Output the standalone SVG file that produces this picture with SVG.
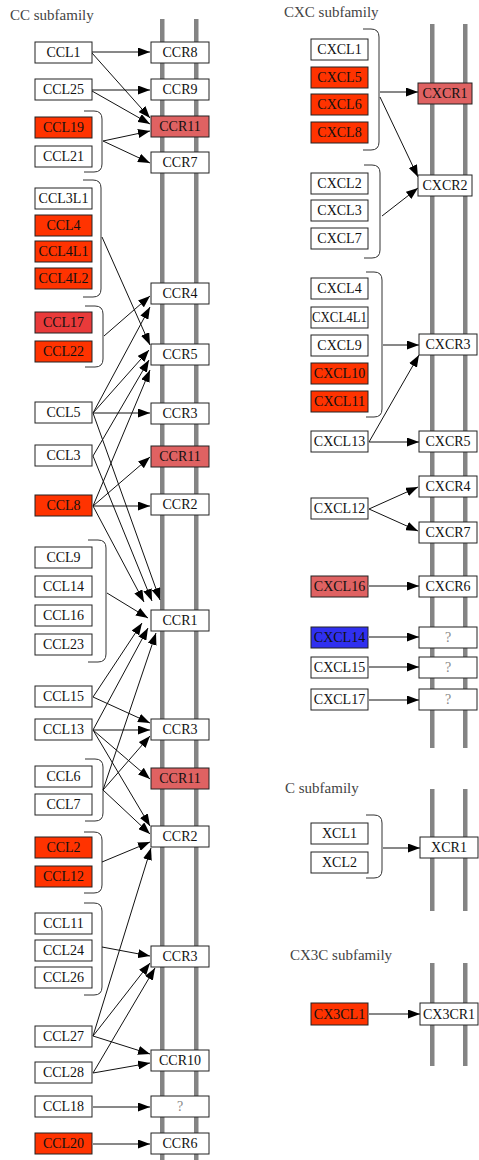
<svg xmlns="http://www.w3.org/2000/svg" width="479" height="1160" viewBox="0 0 479 1160">
<style>
.bg{fill:#ffffff}
.bar{fill:#848484}
rect.n{stroke:#222;stroke-width:1;fill:#ffffff}
rect.red{fill:#ff3300}
rect.red2{fill:#e93a3a}
rect.pink{fill:#df6262}
rect.blue{fill:#3030f0}
text{font-family:"Liberation Serif","Times New Roman",serif;font-size:14px;fill:#111;text-anchor:middle}
text.q{fill:#888}
text.h{font-size:15px;fill:#444;text-anchor:start}
.br{fill:none;stroke:#333;stroke-width:1}
.c path{fill:none;stroke:#111;stroke-width:1;marker-end:url(#ah)}
</style>
<defs>
<marker id="ah" markerWidth="12" markerHeight="9" refX="12" refY="4.5" orient="auto" markerUnits="userSpaceOnUse"><path d="M0,0 L12,4.5 L0,9 z" fill="#000"/></marker>
</defs>
<rect class="bg" x="0" y="0" width="479" height="1160"/>
<g id="labels">
<text class="h" x="10" y="20">CC subfamily</text>
<text class="h" x="284" y="17">CXC subfamily</text>
<text class="h" x="285" y="793">C subfamily</text>
<text class="h" x="290" y="960">CX3C subfamily</text>
</g>
<g id="membranes">
<rect class="bar" x="160" y="19" width="4.5" height="1141"/>
<rect class="bar" x="194" y="19" width="4.5" height="1141"/>
<rect class="bar" x="430" y="24" width="4.5" height="724"/>
<rect class="bar" x="463" y="24" width="4.5" height="724"/>
<rect class="bar" x="430" y="789" width="4.5" height="122"/>
<rect class="bar" x="463" y="789" width="4.5" height="122"/>
<rect class="bar" x="430" y="963" width="4.5" height="103"/>
<rect class="bar" x="463" y="963" width="4.5" height="103"/>
</g>
<g id="brackets">
<path class="br" d="M84,111 H94 Q102,111 102,119 V164 Q102,172 94,172 H84"/>
<path class="br" d="M83,180 H93 Q101,180 101,188 V289 Q101,297 93,297 H83"/>
<path class="br" d="M85,306 H95 Q103,306 103,314 V359 Q103,367 95,367 H85"/>
<path class="br" d="M88,540 H98 Q106,540 106,548 V654 Q106,662 98,662 H88"/>
<path class="br" d="M85,759 H95 Q103,759 103,767 V813 Q103,821 95,821 H85"/>
<path class="br" d="M84,832 H94 Q102,832 102,840 V885 Q102,893 94,893 H84"/>
<path class="br" d="M84,903 H94 Q102,903 102,911 V987 Q102,995 94,995 H84"/>
<path class="br" d="M363,29 H371 Q379,29 379,37 V142 Q379,150 371,150 H363"/>
<path class="br" d="M364,165 H372 Q380,165 380,173 V250 Q380,258 372,258 H364"/>
<path class="br" d="M366,272 H374 Q382,272 382,280 V409 Q382,417 374,417 H366"/>
<path class="br" d="M366,815 H374 Q382,815 382,823 V870 Q382,878 374,878 H366"/>
</g>
<g id="connectors" class="c">
<path d="M92,52 L150,52"/>
<path d="M92,53 L150,118"/>
<path d="M92,90 L150,90"/>
<path d="M92,91 L150,124"/>
<path d="M103,141 L150,131"/>
<path d="M103,141 L150,163"/>
<path d="M102,237 L150,345"/>
<path d="M104,336 L150,296"/>
<path d="M93,413 L150,307"/>
<path d="M93,413 L149,350"/>
<path d="M93,413 L150,413"/>
<path d="M93,413 L160,600"/>
<path d="M93,456 L149,360"/>
<path d="M93,456 L152,601"/>
<path d="M93,506 L150,370"/>
<path d="M93,506 L150,457"/>
<path d="M93,506 L150,506"/>
<path d="M93,506 L144,602"/>
<path d="M107,593 L148,618"/>
<path d="M93,697 L142,623"/>
<path d="M93,697 L150,723"/>
<path d="M93,730 L148,628"/>
<path d="M93,730 L150,730"/>
<path d="M93,730 L150,779"/>
<path d="M93,730 L150,826"/>
<path d="M103,790 L150,736"/>
<path d="M103,790 L156,633"/>
<path d="M103,790 L150,834"/>
<path d="M102,862 L150,842"/>
<path d="M102,947 L150,956"/>
<path d="M93,1036 L151,848"/>
<path d="M93,1036 L150,963"/>
<path d="M93,1036 L150,1054"/>
<path d="M93,1073 L155,968"/>
<path d="M93,1073 L150,1063"/>
<path d="M93,1107 L150,1107"/>
<path d="M93,1144 L150,1144"/>
<path d="M380,92 L418,92"/>
<path d="M380,97 L418,177"/>
<path d="M382,216 L418,188"/>
<path d="M383,345 L419,345"/>
<path d="M369,442 L419,355"/>
<path d="M369,442 L419,442"/>
<path d="M369,509 L418,487"/>
<path d="M369,509 L418,531"/>
<path d="M369,586 L419,586"/>
<path d="M369,637 L419,637"/>
<path d="M369,667 L419,667"/>
<path d="M369,700 L419,700"/>
<path d="M383,848 L420,848"/>
<path d="M369,1014 L420,1014"/>
</g>
<g id="CCL1"><rect class="n" x="35" y="42" width="57" height="21"/><text x="63.5" y="57">CCL1</text></g>
<g id="CCL25"><rect class="n" x="35" y="79" width="57" height="21"/><text x="63.5" y="94">CCL25</text></g>
<g id="CCL19"><rect class="n red" x="35" y="117" width="57" height="21"/><text x="63.5" y="132">CCL19</text></g>
<g id="CCL21"><rect class="n" x="35" y="146" width="57" height="21"/><text x="63.5" y="161">CCL21</text></g>
<g id="CCL3L1"><rect class="n" x="35" y="188" width="57" height="21"/><text x="63.5" y="203">CCL3L1</text></g>
<g id="CCL4"><rect class="n red" x="35" y="215" width="57" height="21"/><text x="63.5" y="230">CCL4</text></g>
<g id="CCL4L1"><rect class="n red" x="35" y="241" width="57" height="21"/><text x="63.5" y="256">CCL4L1</text></g>
<g id="CCL4L2"><rect class="n red" x="35" y="268" width="57" height="21"/><text x="63.5" y="283">CCL4L2</text></g>
<g id="CCL17"><rect class="n red2" x="35" y="312" width="57" height="21"/><text x="63.5" y="327">CCL17</text></g>
<g id="CCL22"><rect class="n red" x="35" y="341" width="57" height="21"/><text x="63.5" y="356">CCL22</text></g>
<g id="CCL5"><rect class="n" x="35" y="402" width="57" height="21"/><text x="63.5" y="417">CCL5</text></g>
<g id="CCL3"><rect class="n" x="35" y="445" width="57" height="21"/><text x="63.5" y="460">CCL3</text></g>
<g id="CCL8"><rect class="n red" x="35" y="495" width="57" height="21"/><text x="63.5" y="510">CCL8</text></g>
<g id="CCL9"><rect class="n" x="35" y="547" width="57" height="21"/><text x="63.5" y="562">CCL9</text></g>
<g id="CCL14"><rect class="n" x="35" y="576" width="57" height="21"/><text x="63.5" y="591">CCL14</text></g>
<g id="CCL16"><rect class="n" x="35" y="605" width="57" height="21"/><text x="63.5" y="620">CCL16</text></g>
<g id="CCL23"><rect class="n" x="35" y="634" width="57" height="21"/><text x="63.5" y="649">CCL23</text></g>
<g id="CCL15"><rect class="n" x="35" y="686" width="57" height="21"/><text x="63.5" y="701">CCL15</text></g>
<g id="CCL13"><rect class="n" x="35" y="719" width="57" height="21"/><text x="63.5" y="734">CCL13</text></g>
<g id="CCL6"><rect class="n" x="35" y="766" width="57" height="21"/><text x="63.5" y="781">CCL6</text></g>
<g id="CCL7"><rect class="n" x="35" y="794" width="57" height="21"/><text x="63.5" y="809">CCL7</text></g>
<g id="CCL2"><rect class="n red" x="35" y="837" width="57" height="21"/><text x="63.5" y="852">CCL2</text></g>
<g id="CCL12"><rect class="n red" x="35" y="866" width="57" height="21"/><text x="63.5" y="881">CCL12</text></g>
<g id="CCL11"><rect class="n" x="35" y="913" width="57" height="21"/><text x="63.5" y="928">CCL11</text></g>
<g id="CCL24"><rect class="n" x="35" y="940" width="57" height="21"/><text x="63.5" y="955">CCL24</text></g>
<g id="CCL26"><rect class="n" x="35" y="967" width="57" height="21"/><text x="63.5" y="982">CCL26</text></g>
<g id="CCL27"><rect class="n" x="35" y="1026" width="57" height="21"/><text x="63.5" y="1041">CCL27</text></g>
<g id="CCL28"><rect class="n" x="35" y="1062" width="57" height="21"/><text x="63.5" y="1077">CCL28</text></g>
<g id="CCL18"><rect class="n" x="35" y="1096" width="57" height="21"/><text x="63.5" y="1111">CCL18</text></g>
<g id="CCL20"><rect class="n red" x="35" y="1133" width="57" height="21"/><text x="63.5" y="1148">CCL20</text></g>
<g id="CCR8"><rect class="n" x="151" y="42" width="58" height="21"/><text x="180" y="57">CCR8</text></g>
<g id="CCR9"><rect class="n" x="151" y="79" width="58" height="21"/><text x="180" y="94">CCR9</text></g>
<g id="CCR11a"><rect class="n pink" x="151" y="116" width="58" height="21"/><text x="180" y="131">CCR11</text></g>
<g id="CCR7"><rect class="n" x="151" y="152" width="58" height="21"/><text x="180" y="167">CCR7</text></g>
<g id="CCR4"><rect class="n" x="151" y="283" width="58" height="21"/><text x="180" y="298">CCR4</text></g>
<g id="CCR5"><rect class="n" x="151" y="344" width="58" height="21"/><text x="180" y="359">CCR5</text></g>
<g id="CCR3a"><rect class="n" x="151" y="403" width="58" height="21"/><text x="180" y="418">CCR3</text></g>
<g id="CCR11b"><rect class="n pink" x="151" y="446" width="58" height="21"/><text x="180" y="461">CCR11</text></g>
<g id="CCR2a"><rect class="n" x="151" y="494" width="58" height="21"/><text x="180" y="509">CCR2</text></g>
<g id="CCR1"><rect class="n" x="151" y="610" width="58" height="21"/><text x="180" y="625">CCR1</text></g>
<g id="CCR3b"><rect class="n" x="151" y="719" width="58" height="21"/><text x="180" y="734">CCR3</text></g>
<g id="CCR11c"><rect class="n pink" x="151" y="768" width="58" height="21"/><text x="180" y="783">CCR11</text></g>
<g id="CCR2b"><rect class="n" x="151" y="826" width="58" height="21"/><text x="180" y="841">CCR2</text></g>
<g id="CCR3c"><rect class="n" x="151" y="946" width="58" height="21"/><text x="180" y="961">CCR3</text></g>
<g id="CCR10"><rect class="n" x="151" y="1050" width="58" height="21"/><text x="180" y="1065">CCR10</text></g>
<g id="CCRq"><rect class="n" x="151" y="1096" width="58" height="21"/><text class="q" x="180" y="1111">?</text></g>
<g id="CCR6"><rect class="n" x="151" y="1133" width="58" height="21"/><text x="180" y="1148">CCR6</text></g>
<g id="CXCL1"><rect class="n" x="311" y="39" width="57" height="21"/><text x="339.5" y="54">CXCL1</text></g>
<g id="CXCL5"><rect class="n red" x="311" y="67" width="57" height="21"/><text x="339.5" y="82">CXCL5</text></g>
<g id="CXCL6"><rect class="n red" x="311" y="94" width="57" height="21"/><text x="339.5" y="109">CXCL6</text></g>
<g id="CXCL8"><rect class="n red" x="311" y="122" width="57" height="21"/><text x="339.5" y="137">CXCL8</text></g>
<g id="CXCL2"><rect class="n" x="311" y="173" width="57" height="21"/><text x="339.5" y="188">CXCL2</text></g>
<g id="CXCL3"><rect class="n" x="311" y="200" width="57" height="21"/><text x="339.5" y="215">CXCL3</text></g>
<g id="CXCL7"><rect class="n" x="311" y="228" width="57" height="21"/><text x="339.5" y="243">CXCL7</text></g>
<g id="CXCL4"><rect class="n" x="311" y="278" width="57" height="21"/><text x="339.5" y="293">CXCL4</text></g>
<g id="CXCL4L1"><rect class="n" x="311" y="307" width="57" height="21"/><text x="339.5" y="322" textLength="55" lengthAdjust="spacingAndGlyphs">CXCL4L1</text></g>
<g id="CXCL9"><rect class="n" x="311" y="335" width="57" height="21"/><text x="339.5" y="350">CXCL9</text></g>
<g id="CXCL10"><rect class="n red" x="311" y="363" width="57" height="21"/><text x="339.5" y="378">CXCL10</text></g>
<g id="CXCL11"><rect class="n red" x="311" y="391" width="57" height="21"/><text x="339.5" y="406">CXCL11</text></g>
<g id="CXCL13"><rect class="n" x="311" y="431" width="57" height="21"/><text x="339.5" y="446">CXCL13</text></g>
<g id="CXCL12"><rect class="n" x="311" y="498" width="57" height="21"/><text x="339.5" y="513">CXCL12</text></g>
<g id="CXCL16"><rect class="n pink" x="311" y="576" width="57" height="21"/><text x="339.5" y="591">CXCL16</text></g>
<g id="CXCL14"><rect class="n blue" x="311" y="627" width="57" height="21"/><text x="339.5" y="642">CXCL14</text></g>
<g id="CXCL15"><rect class="n" x="311" y="657" width="57" height="21"/><text x="339.5" y="672">CXCL15</text></g>
<g id="CXCL17"><rect class="n" x="311" y="689" width="57" height="21"/><text x="339.5" y="704">CXCL17</text></g>
<g id="CXCR1"><rect class="n pink" x="418" y="83" width="54" height="21"/><text x="445" y="98">CXCR1</text></g>
<g id="CXCR2"><rect class="n" x="418" y="175" width="54" height="21"/><text x="445" y="190">CXCR2</text></g>
<g id="CXCR3"><rect class="n" x="419" y="334" width="58" height="21"/><text x="448" y="349">CXCR3</text></g>
<g id="CXCR5"><rect class="n" x="419" y="431" width="58" height="21"/><text x="448" y="446">CXCR5</text></g>
<g id="CXCR4"><rect class="n" x="419" y="476" width="58" height="21"/><text x="448" y="491">CXCR4</text></g>
<g id="CXCR7"><rect class="n" x="419" y="522" width="58" height="21"/><text x="448" y="537">CXCR7</text></g>
<g id="CXCR6"><rect class="n" x="419" y="576" width="58" height="21"/><text x="448" y="591">CXCR6</text></g>
<g id="CXCRq1"><rect class="n" x="419" y="627" width="58" height="21"/><text class="q" x="448" y="642">?</text></g>
<g id="CXCRq2"><rect class="n" x="419" y="657" width="58" height="21"/><text class="q" x="448" y="672">?</text></g>
<g id="CXCRq3"><rect class="n" x="419" y="689" width="58" height="21"/><text class="q" x="448" y="704">?</text></g>
<g id="XCL1"><rect class="n" x="311" y="823" width="57" height="21"/><text x="339.5" y="838">XCL1</text></g>
<g id="XCL2"><rect class="n" x="311" y="852" width="57" height="21"/><text x="339.5" y="867">XCL2</text></g>
<g id="XCR1"><rect class="n" x="420" y="837" width="58" height="21"/><text x="449" y="852">XCR1</text></g>
<g id="CX3CL1"><rect class="n red" x="311" y="1003" width="57" height="22"/><text x="339.5" y="1019">CX3CL1</text></g>
<g id="CX3CR1"><rect class="n" x="420" y="1003" width="58" height="22"/><text x="449" y="1019">CX3CR1</text></g>
</svg>
